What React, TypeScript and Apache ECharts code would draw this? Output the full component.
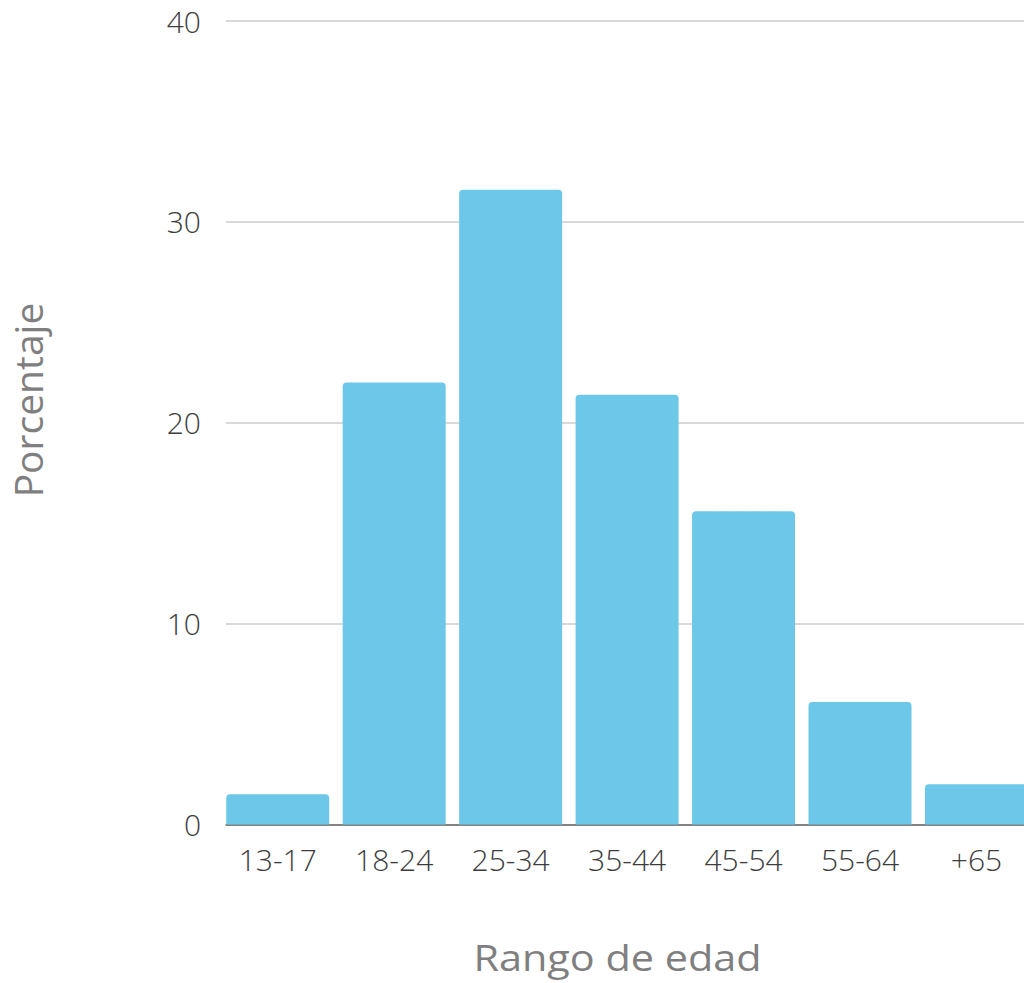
import React, { useEffect, useRef } from "react";
import * as echarts from "echarts";

const categories = ["13-17", "18-24", "25-34", "35-44", "45-54", "55-64", "+65"];
const percentages = [1.5, 22.0, 31.6, 21.4, 15.6, 6.1, 2.0];
const yTicks = { min: 0, max: 40, interval: 10 };
const xTitle = "Rango de edad";
const yTitle = "Porcentaje";

const FONT = "'Open Sans', 'Noto Sans', sans-serif";

export default function App() {
  const ref = useRef<HTMLDivElement>(null);

  useEffect(() => {
    if (!ref.current) return;
    const chart = echarts.init(ref.current, undefined, { renderer: "svg" });
    const option: any = {
      animation: false,
      backgroundColor: "#ffffff",
      textStyle: { fontFamily: FONT },
      grid: [
        { left: 226, top: 21, height: 803.5, width: 814 },
        { left: 219.5, top: 21, height: 803.5, width: 815.2 },
      ],
      xAxis: [
        {
          gridIndex: 0,
          type: "value",
          min: 0,
          max: 1,
          axisLine: { show: true, lineStyle: { color: "#666666", width: 1.5 } },
          axisTick: { show: false },
          axisLabel: { show: false },
          splitLine: { show: false },
        },
        {
          gridIndex: 1,
          type: "category",
          data: categories,
          axisLine: { show: false },
          axisTick: { show: false },
          axisLabel: {
            margin: 20,
            fontSize: 30,
            color: "#3d3d3d",
            fontFamily: FONT,
            fontWeight: 300,
          },
        },
      ],
      yAxis: [
        {
          gridIndex: 0,
          type: "value",
          min: yTicks.min,
          max: yTicks.max,
          interval: yTicks.interval,
          axisLine: { show: false },
          axisTick: { show: false },
          axisLabel: {
            margin: 25,
            fontSize: 30,
            color: "#3d3d3d",
            fontFamily: FONT,
            fontWeight: 300,
          },
          splitLine: { show: true, lineStyle: { color: "#d9d9d9", width: 2 } },
        },
        {
          gridIndex: 1,
          type: "value",
          min: yTicks.min,
          max: yTicks.max,
          show: false,
        },
      ],
      graphic: [
        {
          type: "text",
          x: 617.5,
          y: 957,
          scaleX: 1.15,
          style: {
            text: xTitle,
            fontSize: 36,
            fontFamily: FONT,
            fill: "#7f7f7f",
            align: "center",
            verticalAlign: "middle",
          },
        },
        {
          type: "text",
          x: 27,
          y: 400,
          rotation: Math.PI / 2,
          style: {
            text: yTitle,
            fontSize: 39,
            fontFamily: FONT,
            fill: "#7f7f7f",
            align: "center",
            verticalAlign: "middle",
          },
        },
      ],
      series: [
        {
          type: "bar",
          xAxisIndex: 1,
          yAxisIndex: 1,
          data: percentages,
          barWidth: 103,
          itemStyle: { color: "#6DC7E9", borderRadius: [4, 4, 0, 0] },
        },
      ],
    };
    chart.setOption(option);
    return () => chart.dispose();
  }, []);

  return (
    <div
      ref={ref}
      style={{ position: "fixed", left: 0, top: 0, width: 1040, height: 983 }}
    />
  );
}
